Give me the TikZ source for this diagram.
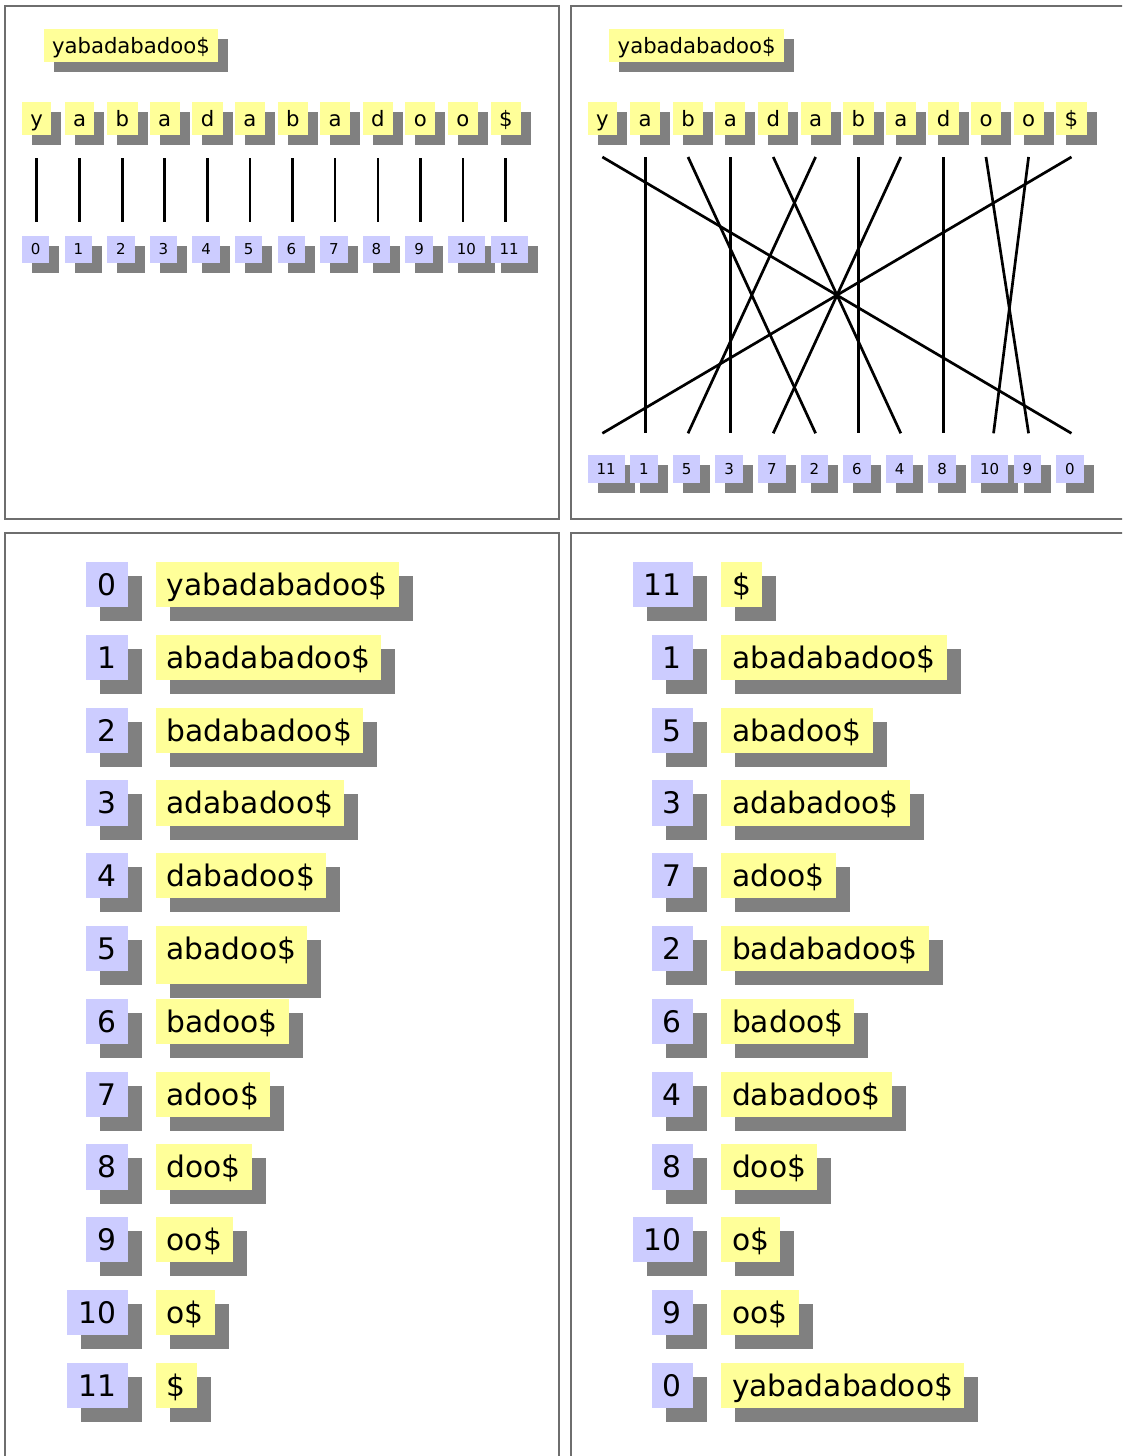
\documentclass[tikz,border=0pt]{standalone}
\usepackage{fontspec}
\setmainfont{DejaVu Sans}
\usetikzlibrary{shadows,calc}
\definecolor{chy}{RGB}{255,255,153}
\definecolor{idb}{RGB}{204,204,255}
\definecolor{shd}{RGB}{128,128,128}
\definecolor{frm}{RGB}{110,110,110}
\tikzset{
  smallshadow/.style={drop shadow={shadow xshift=10pt, shadow yshift=-10pt, opacity=1, fill=shd}},
  bigshadow/.style={drop shadow={shadow xshift=14pt, shadow yshift=-14pt, opacity=1, fill=shd}},
  chbox/.style={fill=chy, smallshadow, font=\fontsize{21.2}{25}\selectfont, text height=15.45pt, text depth=0pt, inner xsep=8.5pt, inner ysep=8.8pt, anchor=base west},
  ixbox/.style={fill=idb, smallshadow, font=\fontsize{15}{18}\selectfont, text height=10.9pt, text depth=0pt, inner xsep=9pt, inner ysep=8.35pt, anchor=base west},
  sufbox/.style={fill=chy, bigshadow, font=\fontsize{29.7}{35}\selectfont, text height=21.65pt, text depth=0pt, inner xsep=11.2pt, inner ysep=11.7pt, anchor=base west},
  rkbox/.style={fill=idb, bigshadow, font=\fontsize{29.7}{35}\selectfont, text height=21.65pt, text depth=0pt, inner xsep=11.2pt, inner ysep=11.7pt, anchor=base east},
  link/.style={line width=2.7pt},
  panel/.style={draw=frm, line width=1.3pt}
}
\begin{document}
\begin{tikzpicture}[x=1pt,y=-1pt]
\useasboundingbox (0,0) rectangle (1122,1456);
\clip (0,0) rectangle (1122,1456);
% panels
\draw[panel] (5,6) rectangle (559,519);
\draw[panel] (571,6) rectangle (1135,519);
\draw[panel] (5,533) rectangle (559,1470);
\draw[panel] (571,533) rectangle (1135,1470);
% helper coordinates for connector ends
\coordinate (l1t) at (0,158.3);
\coordinate (l1b) at (0,221.7);
\coordinate (l2t) at (0,157);
\coordinate (l2b) at (0,433.3);
% ---------- panel 1 ----------
\node[chbox] (s1) at (43.3,53.3) {yabadabadoo\$};
\foreach \c [count=\i from 0] in {y,a,b,a,d,a,b,a,d,o,o,\$}
  \node[chbox] (p1c\i) at ({21.7+42.6*\i},126.5) {\c};
\foreach \i in {0,...,11}
  \node[ixbox] (p1i\i) at ({21.7+42.6*\i},254.9) {\i};
\foreach \i in {0,...,11}
  \draw[link] (p1c\i |- l1t) -- (p1c\i |- l1b);
% ---------- panel 2 ----------
\node[chbox] (s2) at (609,53.3) {yabadabadoo\$};
\foreach \c [count=\i from 0] in {y,a,b,a,d,a,b,a,d,o,o,\$}
  \node[chbox] (p2c\i) at ({587.4+42.6*\i},126.5) {\c};
\foreach \s [count=\k from 0] in {11,1,5,3,7,2,6,4,8,10,9,0}
  \node[ixbox] (p2b\k) at ({587.4+42.6*\k},474.2) {\s};
\foreach \i/\k in {0/11,1/1,2/5,3/3,4/7,5/2,6/6,7/4,8/8,9/10,11/0}
  \draw[link] (p2c\i |- l2t) -- (p2c\k |- l2b);
\draw[link] (p2c10 |- l2t) -- ($(p2b9.center |- l2b)+(4,0)$);
% ---------- panel 3 ----------
\foreach \r/\t in {0/yabadabadoo\$,1/abadabadoo\$,2/badabadoo\$,3/adabadoo\$,4/dabadoo\$,6/badoo\$,7/adoo\$,8/doo\$,9/oo\$,10/o\$,11/\$}{
  \node[rkbox] (p3r\r) at (127.7,{595.4+72.8*\r}) {\r};
  \node[sufbox] (p3s\r) at (155.3,{595.4+72.8*\r}) {\t};
}
\node[rkbox] (p3r5) at (127.7,{595.4+72.8*5}) {5};
\node[sufbox, text depth=13pt] (p3s5) at (155.3,{595.4+72.8*5}) {abadoo\$};
% ---------- panel 4 ----------
\foreach \n/\t [count=\r from 0] in {11/\$,1/abadabadoo\$,5/abadoo\$,3/adabadoo\$,7/adoo\$,2/badabadoo\$,6/badoo\$,4/dabadoo\$,8/doo\$,10/o\$,9/oo\$,0/yabadabadoo\$}{
  \node[rkbox] (p4r\r) at (693,{595.4+72.8*\r}) {\n};
  \node[sufbox] (p4s\r) at (720.7,{595.4+72.8*\r}) {\t};
}
\end{tikzpicture}
\end{document}
